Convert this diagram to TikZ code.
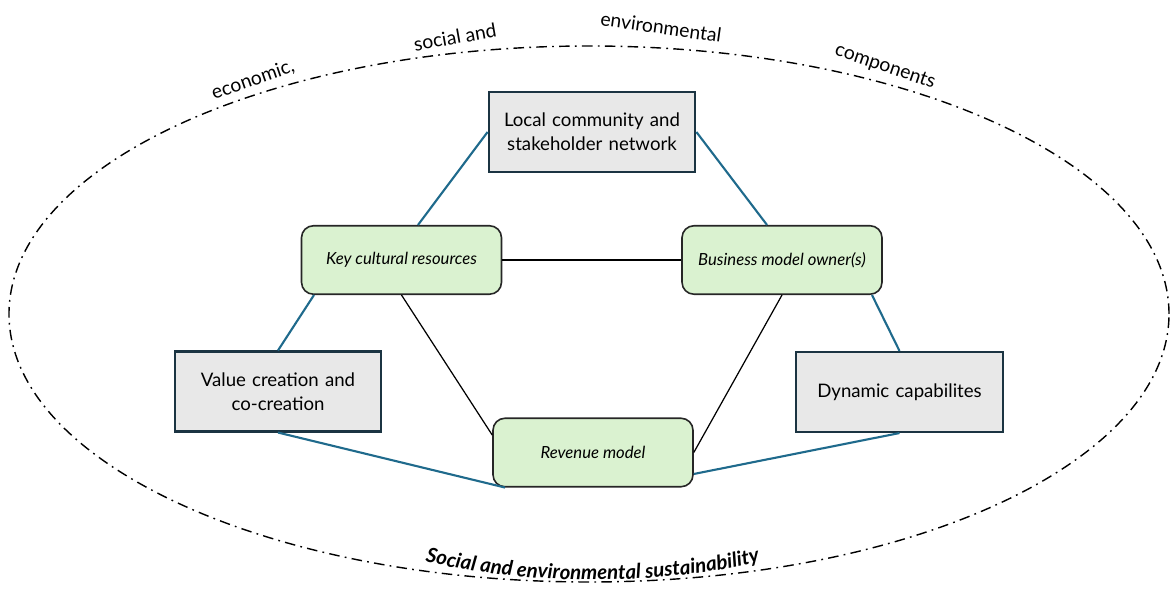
\documentclass[tikz,border=0pt]{standalone}
\usepackage{fontspec}
\setmainfont{Lato}
\usepackage{tikz}
\usetikzlibrary{arrows.meta, positioning, decorations.text}
\definecolor{boxgray}{HTML}{E8E8E8}
\definecolor{boxline}{HTML}{1B3442}
\definecolor{keygreen}{HTML}{DAF2D0}
\definecolor{linkblue}{HTML}{1F6A8C}

\begin{document}
\begin{tikzpicture}[
    every node/.style={font=\fontsize{10.6}{13.5}\selectfont},
    block/.style={rectangle, draw=boxline, fill=boxgray, line width=1.2pt, text width=3.9cm, align=center, minimum width=4.12cm, minimum height=1.6cm},
    keybox/.style={rectangle, rounded corners=0.24cm, draw=black!85, fill=keygreen, line width=0.9pt, align=center, minimum width=4cm, minimum height=1.37cm, font=\fontsize{9.5}{11.5}\selectfont\itshape},
    link/.style={linkblue, line width=1.2pt},
    tie/.style={black, line width=0.7pt},
    arclab/.style={font=\fontsize{11}{13}\selectfont}
]
\useasboundingbox (0,0) rectangle (23.4,11.84);

% Surrounding dash-dot boundary
\draw[dash pattern=on 6pt off 3pt on 1pt off 3pt, line width=0.8pt] (11.78,5.56) ellipse [x radius=11.6cm, y radius=5.36cm];

% Labels along the top of the boundary
\node[arclab, rotate=19]  (econ) at (5.06,10.24) {economic,};
\node[arclab, rotate=10]  (soc)  at (9.1,11.1)   {social and};
\node[arclab, rotate=-8]  (env)  at (13.22,11.3) {environmental};
\node[arclab, rotate=-19] (comp) at (17.7,10.5)  {components};

% Curved label along the bottom
\path[decorate, decoration={text along path, text align=center,
    text={|\fontsize{11.6}{14}\selectfont\bfseries\itshape|Social and environmental sustainability}}]
    (8.45,0.62) .. controls (10.5,0.12) and (13.2,0.12) .. (15.25,0.62);

% Outer blocks
\node[block] (comm)   at (11.84,9.2)  {Local community and\\stakeholder network};
\node[block] (valcre) at (5.56,4.01)  {Value creation and\\co-creation};
\node[block] (dyncap) at (17.99,4.0)  {Dynamic capabilites};

% Inner (green) elements
\node[keybox] (keyres)  at (8.03,6.64)  {Key cultural resources};
\node[keybox] (owner)   at (15.64,6.64) {Business model owner(s)};
\node[keybox] (revenue) at (11.86,2.79) {Revenue model};

% Blue links, outer ring
\draw[link] (comm.west) -- ([xshift=0.33cm]keyres.north);
\draw[link] (comm.east) -- ([xshift=-0.3cm]owner.north);
\draw[link] ([xshift=-1.75cm]keyres.south) -- (valcre.north);
\draw[link] ([xshift=1.8cm]owner.south) -- (dyncap.north);
\draw[link] (valcre.south) -- ([xshift=-1.76cm]revenue.south);
\draw[link] (dyncap.south) -- ([yshift=-0.43cm]revenue.east);

% Black ties, inner triangle
\draw[tie] (keyres.east) -- (owner.west);
\draw[tie] (keyres.south) -- ([yshift=0.35cm]revenue.west);
\draw[tie] (owner.south) -- (revenue.east);
\end{tikzpicture}
\end{document}
